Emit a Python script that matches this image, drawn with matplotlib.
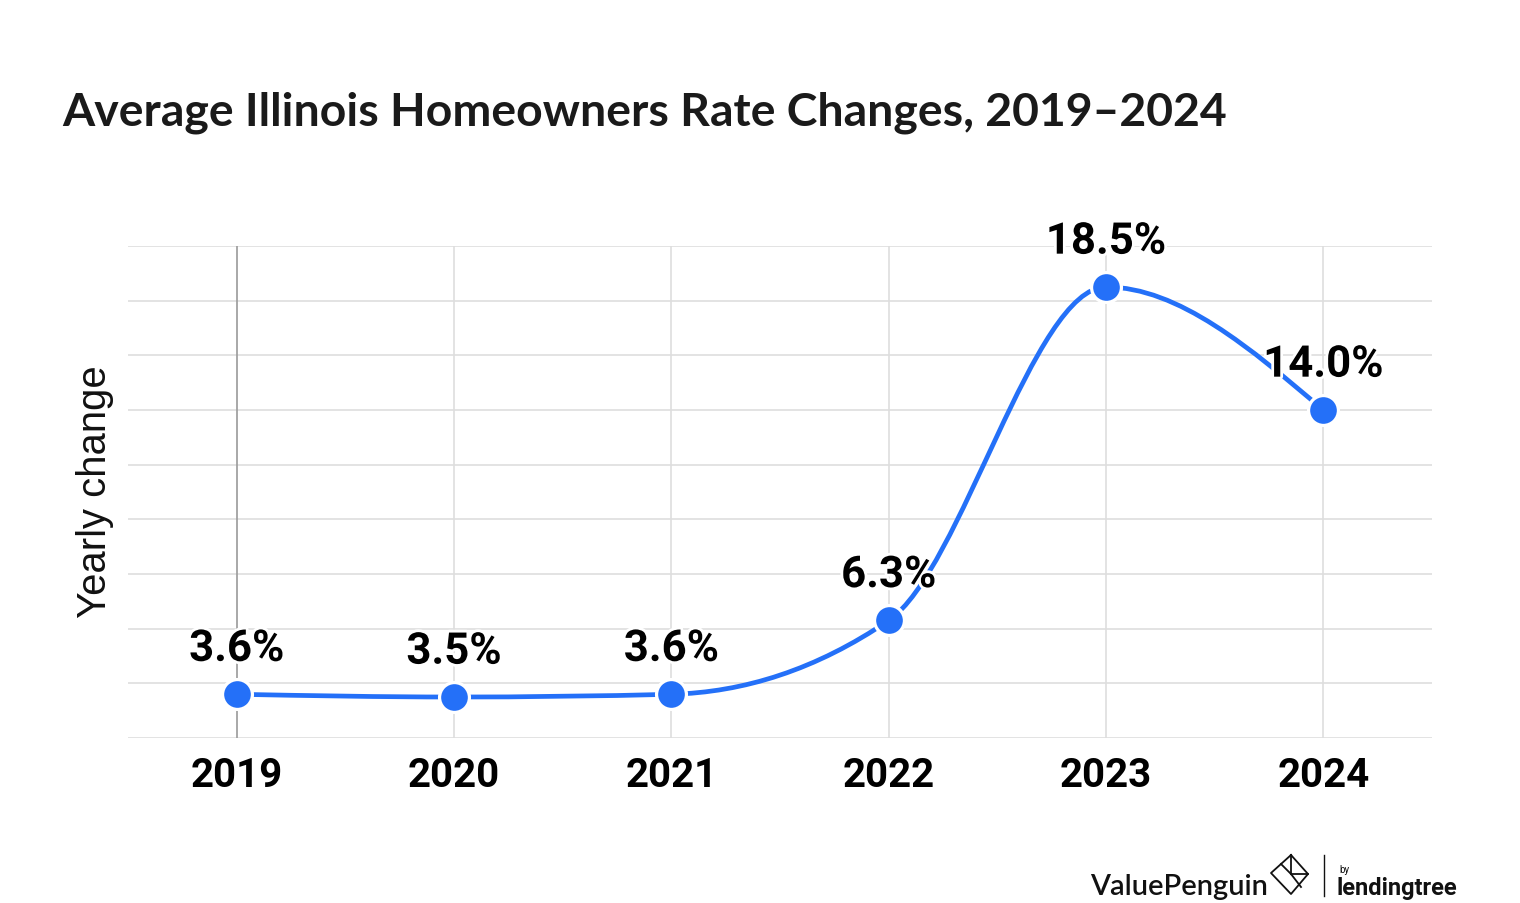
import numpy as np
import matplotlib
matplotlib.use('Agg')
import matplotlib.pyplot as plt
import matplotlib.patheffects as pe
from matplotlib.path import Path
from matplotlib.patches import PathPatch

# data
years = [2019, 2020, 2021, 2022, 2023, 2024]
changes = [3.6, 3.5, 3.6, 6.3, 18.5, 14.0]
labels = ['3.6%', '3.5%', '3.6%', '6.3%', '18.5%', '14.0%']
y_ticks = list(range(2, 21, 2))

blue = '#2470f8'
grid_col = '#dedede'


def monotone_path(x, y):
	# monotone cubic (like d3 curveMonotoneX), built as bezier segments
	x = np.asarray(x, float)
	y = np.asarray(y, float)
	h = np.diff(x)
	s = np.diff(y) / h
	m = np.zeros(len(x))
	for i in range(1, len(x) - 1):
		p = (s[i - 1] * h[i] + s[i] * h[i - 1]) / (h[i - 1] + h[i])
		m[i] = (np.sign(s[i - 1]) + np.sign(s[i])) * min(abs(s[i - 1]), abs(s[i]), 0.5 * abs(p))
	m[0] = (3 * s[0] - m[1]) / 2
	m[-1] = (3 * s[-1] - m[-2]) / 2
	verts = [(x[0], y[0])]
	codes = [Path.MOVETO]
	for i in range(len(x) - 1):
		d = h[i] / 3
		verts += [(x[i] + d, y[i] + m[i] * d), (x[i + 1] - d, y[i + 1] - m[i + 1] * d), (x[i + 1], y[i + 1])]
		codes += [Path.CURVE4] * 3
	return Path(verts, codes)


fig = plt.figure(figsize=(15.2, 9.04), dpi=100)
ax = fig.add_axes([128 / 1520, 1 - 739 / 904, 1304 / 1520, 492 / 904])

ax.set_xlim(2018.5, 2024.5)
ax.set_ylim(2, 20)
ax.set_yticks(y_ticks)
ax.set_yticklabels([])
ax.set_xticks(years)
ax.set_xticklabels([str(y) for y in years], fontsize=29, fontweight='bold', family='Roboto')
ax.tick_params(length=0, pad=13)
for sp in ax.spines.values():
	sp.set_visible(False)

for yt in y_ticks:
	ax.axhline(yt, color=grid_col, lw=1.2, zorder=0)
for i, yr in enumerate(years):
	ax.axvline(yr, color='#9a9a9a' if i == 0 else grid_col, lw=1.2, zorder=0)

ax.add_patch(PathPatch(monotone_path(years, changes), fill=False, edgecolor=blue, lw=3.4, zorder=2,
					   capstyle='round'))
ax.plot(years, changes, 'o', ms=21.5, mfc=blue, mec='white', mew=2.3, zorder=3)

for x, y, lab in zip(years, changes, labels):
	ax.annotate(lab, (x, y), xytext=(0, 24), textcoords='offset points', ha='center', va='baseline',
				fontsize=31.5, fontweight='bold', family='Roboto', zorder=4,
				path_effects=[pe.withStroke(linewidth=4, foreground='white')])

fig.text(62 / 1520, 1 - 125 / 904, 'Average Illinois Homeowners Rate Changes, 2019\u20132024',
		 fontsize=33.4, fontweight='bold', family='Lato', color='#1a1a1a', va='baseline')
fig.text(95 / 1520, 1 - 492 / 904, 'Yearly change', rotation=90, ha='center', va='center',
		 fontsize=28.8, family='Liberation Sans', color='#111111')

# logo
lax = fig.add_axes([0, 0, 1, 1])
lax.set_xlim(0, 1520)
lax.set_ylim(904, 0)
lax.axis('off')
lax.text(1090, 895, 'ValuePenguin', fontsize=21, family='Lato', fontweight='semibold', color='#111111',
		 va='baseline', ha='left')
lax.plot([1291, 1308, 1291, 1271, 1291], [856, 875, 895, 874, 856], color='#111111', lw=1.3)
lax.plot([1291, 1291, 1308], [856, 875, 875], color='#111111', lw=1.3)
lax.plot([1291, 1301], [875, 888], color='#111111', lw=1.3)
lax.plot([1281, 1291], [865, 875], color='#111111', lw=1.3)
lax.plot([1324, 1324], [856, 897], color='#111111', lw=1.0)
lax.text(1339, 873, 'by', fontsize=7, family='Roboto', color='#111111', va='baseline')
lax.text(1337, 895, 'lendingtree', fontsize=17, family='Roboto', fontweight='bold', color='#111111',
		 va='baseline', ha='left')

fig.savefig('out.png', dpi=100)
